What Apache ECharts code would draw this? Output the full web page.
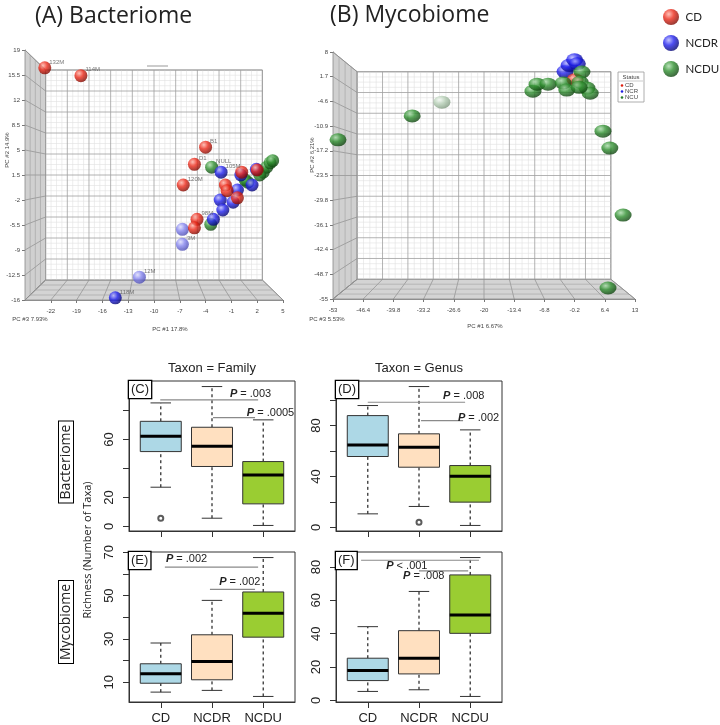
<!DOCTYPE html>
<html><head><meta charset="utf-8">
<script src="https://cdn.jsdelivr.net/npm/echarts@6/dist/echarts.min.js"></script>
<style>html,body{margin:0;padding:0;background:#fff}#c{width:720px;height:725px}</style>
</head><body><div id="c"></div>
<script>
// ================= DATA =================
const statusNames = ['CD', 'NCDR', 'NCDU'];
// Panel A: Bacteriome PCA  [PC1, PC2, label]
const bactCD = [[-22.7,16.5,'132M'],[-18.5,15.4,'114M'],[-4.0,5.4,'B1'],[-5.3,3.0,'D1'],[-6.6,0.1,'120M'],
  [-1.7,0.1,''],[-1.5,-0.7,''],[-0.3,-1.7,''],[-5.0,-4.7,'98M'],[-5.3,-5.9,''],[2.0,2.2,''],[0.2,1.9,'']];
const bactNCDR = [[-2.2,1.9,'105M'],[0.1,1.5,''],[1.9,2.3,''],[1.4,0.1,''],[-0.3,-0.6,''],[-2.3,-2.0,''],
  [-0.8,-2.3,''],[-2.0,-3.4,''],[-3.1,-4.7,''],[-14.5,-15.7,'118M']];
const bactNCDRFar = [[-6.7,-6.1,''],[-6.7,-8.2,'3M'],[-11.7,-12.8,'12M']];
const bactNCDU = [[-3.3,2.6,'NULL'],[0.9,0.5,''],[2.7,1.9,''],[3.1,2.6,''],[3.5,3.2,''],[3.8,3.5,''],
  [-3.4,-5.4,''],[0.6,0.8,''],[2.3,1.5,'']];
const bactXTicks = [-22,-19,-16,-13,-10,-7,-4,-1,2,5];
const bactXGrid = [-25,-22,-19,-16,-13,-10,-7,-4,-1,2,5];
const bactYTicks = [-16,-12.5,-9,-5.5,-2,1.5,5,8.5,12,15.5,19];

// Panel B: Mycobiome PCA [PC1, PC2]
const mycoCD = [[-0.1,0.9]];
const mycoNCDR = [[-2.3,3.0],[-1.4,4.6],[-0.2,6.0],[0.4,5.0]];
const mycoNCDU = [[-51.9,-14.4],[-35.7,-8.3],[-9.3,-2.0],[-8.4,-0.2],[-6.0,-0.2],[-2.7,0.1],[-1.9,-1.7],
  [1.4,2.9],[1.0,0.3],[2.5,-1.2],[3.2,-2.5],[0.8,-1.0],[6.0,-12.2],[7.5,-16.5],[10.4,-33.6],[7.1,-52.2]];
const mycoNCDUFar = [[-29.2,-4.8]];
const mycoXTicks = [-53,-46.4,-39.8,-33.2,-26.6,-20,-13.4,-6.8,-0.2,6.4,13];
const mycoYTicks = [-55,-48.7,-42.4,-36.1,-29.8,-23.5,-17.2,-10.9,-4.6,1.7,8];

// Boxplots: [lower whisker, Q1, median, Q3, upper whisker] per group
const groups = ['CD', 'NCDR', 'NCDU'];
const famBact = [[27.1,51.7,62.3,72.6,85.3],[5.7,41.4,55.4,68.5,96.6],[0.7,15.6,35.6,44.8,73.6]];
const famBactOut = [[1,5.7]];
const genBact = [[10.7,55.7,64.8,87.8,95.7],[16.5,47.3,63.0,73.5,110.6],[1.6,19.9,40.3,48.6,76.6]];
const genBactOut = [[2,4.2]];
const famMyco = [[5.4,9.5,13.9,18.5,28.1],[6.2,11.1,19.6,31.9,47.8],[3.4,30.8,41.9,51.7,67.6]];
const famMycoOut = [];
const genMyco = [[5.4,11.9,17.9,25.3,44.2],[6.4,15.9,25.3,41.8,65.3],[2.4,40.2,51.2,75.2,85.6]];
const genMycoOut = [];
// P-value brackets: [fromX, toX, lineY, textX, textY]  and texts
const famBactP = [[0.99,2.90,87.4,2.35,91.7],[2.02,2.84,75.2,2.68,78.6]];
const famBactPTxt = ['= .003','= .0005'];
const genBactP = [[1.0,2.90,98.3,2.47,103.5],[2.04,2.86,83.9,2.76,86.3]];
const genBactPTxt = ['= .008','= .002'];
const famMycoP = [[1.08,2.90,63.2,1.10,66.8],[1.96,2.84,52.9,2.14,56.3]];
const famMycoPTxt = ['= .002','= .002'];
const genMycoP = [[0.87,3.17,84.0,1.36,80.6],[2.0,2.96,77.6,1.69,74.6]];
const genMycoPTxt = ['< .001','= .008'];
const famBactYTicks = [0,20,40,60,80], famBactYLabels = [0,20,60];
const genBactYTicks = [0,20,40,60,80,100], genBactYLabels = [0,40,80];
const famMycoYTicks = [10,20,30,40,50,60,70], famMycoYLabels = [10,30,50,70];
const genMycoYTicks = [0,20,40,60,80], genMycoYLabels = [0,20,40,60,80];

// ================= STYLE HELPERS =================
function grad(a,b,c){return {type:'radial',x:0.36,y:0.32,r:0.72,colorStops:[{offset:0,color:a},{offset:0.45,color:b},{offset:1,color:c}]};}
const cRed = grad('#ffb2a6','#ec2a1a','#7a0700');
const cBlue = grad('#b4b4ff','#2222ee','#00006a');
const cGreen = grad('#a9dba9','#2f8f2f','#0c3f0c');
const cBlueFar = grad('#e0e0ff','#8484ee','#4a4ab0');
const cGreenFar = grad('#f2f8f2','#b5ceb5','#7c967c');
const boxColors = ['#ADD8E6','#FFE0C0','#9ACD32'];
const AF = 'Liberation Sans';

function makeWall(xGrid, yGrid, k){
  return function(params, api){
    const xmin=xGrid[0], xmax=xGrid[xGrid.length-1], ymin=yGrid[0], ymax=yGrid[yGrid.length-1];
    const tl=api.coord([xmin,ymax]), br=api.coord([xmax,ymin]);
    const cx=(tl[0]+br[0])/2, cy=(tl[1]+br[1])/2;
    const B=p=>[cx+(p[0]-cx)*k, cy+(p[1]-cy)*k];
    const L=tl[0], R=br[0], T=tl[1], Bo=br[1];
    const btl=B([L,T]), bbr=B([R,Bo]);
    const ch=[];
    const line=(x1,y1,x2,y2,stroke,w)=>ch.push({type:'line',shape:{x1,y1,x2,y2},style:{stroke,lineWidth:w}});
    ch.push({type:'polygon',shape:{points:[[L,T],btl,[btl[0],bbr[1]],[L,Bo]]},style:{fill:'#d0d0d0',stroke:'#888',lineWidth:0.8}});
    ch.push({type:'polygon',shape:{points:[[L,Bo],[R,Bo],bbr,[btl[0],bbr[1]]]},style:{fill:'#d4d4d4',stroke:'#888',lineWidth:0.8}});
    ch.push({type:'rect',shape:{x:btl[0],y:btl[1],width:bbr[0]-btl[0],height:bbr[1]-btl[1]},style:{fill:'#fff',stroke:'#888',lineWidth:0.8}});
    const bx=v=>B(api.coord([v,ymin]))[0];
    const by=v=>B(api.coord([xmin,v]))[1];
    const sub=4;
    for(let i=0;i<xGrid.length-1;i++) for(let j=1;j<sub;j++){
      const px=bx(xGrid[i]+(xGrid[i+1]-xGrid[i])*j/sub); line(px,btl[1],px,bbr[1],'#e0e0e0',0.6);}
    for(let i=0;i<yGrid.length-1;i++) for(let j=1;j<sub;j++){
      const py=by(yGrid[i]+(yGrid[i+1]-yGrid[i])*j/sub); line(btl[0],py,bbr[0],py,'#e0e0e0',0.6);}
    xGrid.forEach(v=>{const px=bx(v); line(px,btl[1],px,bbr[1],'#a0a0a0',0.8);});
    yGrid.forEach(v=>{const py=by(v); line(btl[0],py,bbr[0],py,'#a0a0a0',0.8);});
    xGrid.forEach(v=>{const f=api.coord([v,ymin]); line(f[0],f[1],bx(v),bbr[1],'#8c8c8c',0.7);});
    for(let j=1;j<4;j++){const t=j/4; line(L+(btl[0]-L)*t,Bo+(bbr[1]-Bo)*t,R+(bbr[0]-R)*t,Bo+(bbr[1]-Bo)*t,'#a0a0a0',0.6);}
    yGrid.forEach(v=>{const f=api.coord([xmin,v]); line(f[0],f[1],btl[0],by(v),'#8c8c8c',0.7);});
    for(let j=1;j<4;j++){const t=j/4; const xx=L+(btl[0]-L)*t; line(xx,T+(btl[1]-T)*t,xx,Bo+(bbr[1]-Bo)*t,'#a0a0a0',0.6);}
    return {type:'group',children:ch};
  };
}

function boxRender(params, api){
  const x=api.value(0), lo=api.value(1), q1=api.value(2), med=api.value(3), q3=api.value(4), hi=api.value(5);
  const c=(a,b)=>api.coord([a,b]);
  const pLo=c(x,lo), pQ1=c(x,q1), pMed=c(x,med), pQ3=c(x,q3), pHi=c(x,hi);
  const left=c(x-0.4,q3)[0], right=c(x+0.4,q3)[0];
  const cl=c(x-0.2,hi)[0], cr=c(x+0.2,hi)[0];
  const dash={stroke:'#333',lineWidth:1.3,lineDash:[3,3]};
  return {type:'group',children:[
    {type:'line',shape:{x1:pQ3[0],y1:pQ3[1],x2:pHi[0],y2:pHi[1]},style:dash},
    {type:'line',shape:{x1:pLo[0],y1:pLo[1],x2:pQ1[0],y2:pQ1[1]},style:dash},
    {type:'line',shape:{x1:cl,y1:pHi[1],x2:cr,y2:pHi[1]},style:{stroke:'#333',lineWidth:1}},
    {type:'line',shape:{x1:cl,y1:pLo[1],x2:cr,y2:pLo[1]},style:{stroke:'#333',lineWidth:1}},
    {type:'rect',shape:{x:left,y:pQ3[1],width:right-left,height:pQ1[1]-pQ3[1]},style:{fill:boxColors[params.dataIndex],stroke:'#333',lineWidth:1}},
    {type:'line',shape:{x1:left,y1:pMed[1],x2:right,y2:pMed[1]},style:{stroke:'#000',lineWidth:3}}
  ]};
}
function makePRender(texts){
  return function(params, api){
    const a=api.coord([api.value(0),api.value(2)]), b=api.coord([api.value(1),api.value(2)]);
    const t=api.coord([api.value(3),api.value(4)]);
    return {type:'group',children:[
      {type:'line',shape:{x1:a[0],y1:a[1],x2:b[0],y2:b[1]},style:{stroke:'#8a8a8a',lineWidth:1.2}},
      {type:'text',x:t[0],y:t[1],style:{text:'{i|P} '+texts[params.dataIndex],
        rich:{i:{fontStyle:'italic',fontWeight:'bold',fontSize:11,fontFamily:AF,fill:'#222'}},
        fontSize:11,fontFamily:AF,fill:'#222',align:'left',verticalAlign:'middle'}}
    ]};
  };
}
function rangeOf(stats, outs){
  let mn=Infinity,mx=-Infinity;
  stats.forEach(s=>{mn=Math.min(mn,s[0]);mx=Math.max(mx,s[4]);});
  outs.forEach(o=>{mn=Math.min(mn,o[1]);mx=Math.max(mx,o[1]);});
  const e=(mx-mn)*0.04; return [mn-e,mx+e];
}

// ================= OPTION =================
const tickStyle={color:'#444',fontSize:6,fontFamily:AF};
function pcaX(gi,min,max,ticks){return {gridIndex:gi,type:'value',min,max,
  axisLine:{show:true,onZero:false,lineStyle:{color:'#777',width:0.8}},
  axisTick:{show:true,customValues:ticks,length:3,lineStyle:{color:'#777'}},
  axisLabel:Object.assign({customValues:ticks,margin:8},tickStyle),splitLine:{show:false}};}
function pcaY(gi,min,max,ticks){return {gridIndex:gi,type:'value',min,max,
  axisLine:{show:true,onZero:false,lineStyle:{color:'#777',width:0.8}},
  axisTick:{show:true,customValues:ticks,length:3,lineStyle:{color:'#777'}},
  axisLabel:Object.assign({customValues:ticks,margin:5},tickStyle),splitLine:{show:false}};}
function boxX(gi,showLab){return {gridIndex:gi,type:'value',min:0.38,max:3.62,
  axisLine:{show:true,onZero:false,lineStyle:{color:'#333'}},
  axisTick:{show:true,customValues:[1,2,3],length:6,lineStyle:{color:'#333'}},
  axisLabel:{show:showLab,customValues:[1,2,3],formatter:v=>groups[Math.round(v)-1],fontSize:13,fontFamily:AF,color:'#222',margin:10},
  splitLine:{show:false}};}
function boxY(gi,range,ticks,labels){return {gridIndex:gi,type:'value',min:range[0],max:range[1],
  axisLine:{show:true,onZero:false,lineStyle:{color:'#333'}},
  axisTick:{show:true,customValues:ticks,length:6,lineStyle:{color:'#333'}},
  axisLabel:{customValues:labels,rotate:90,fontSize:13,fontFamily:AF,color:'#222',margin:13},
  splitLine:{show:false}};}

const scat=(name,data,color,xi,size)=>({type:'scatter',name,xAxisIndex:xi,yAxisIndex:xi,data,symbolSize:size,clip:false,
  itemStyle:{color},label:{show:true,formatter:p=>p.data[2]||'',position:'right',distance:0,offset:[-2,-6],fontSize:6,color:'#555',fontFamily:AF},z:3});
const boxSeries=(gi,stats)=>({type:'custom',xAxisIndex:gi,yAxisIndex:gi,renderItem:boxRender,clip:false,
  data:stats.map((s,i)=>[i+1].concat(s)),z:3});
const outSeries=(gi,outs)=>({type:'scatter',xAxisIndex:gi,yAxisIndex:gi,data:outs,symbol:'emptyCircle',symbolSize:5,
  itemStyle:{color:'#333',borderWidth:1},z:4});
const pSeries=(gi,arr,txt)=>({type:'custom',xAxisIndex:gi,yAxisIndex:gi,renderItem:makePRender(txt),clip:false,data:arr,z:4});

const gridBox={show:true,borderColor:'#333',borderWidth:1,backgroundColor:'#fff',outerBoundsMode:'none'};
const rC=rangeOf(famBact,famBactOut), rD=rangeOf(genBact,genBactOut), rE=rangeOf(famMyco,famMycoOut), rF=rangeOf(genMyco,genMycoOut);

const option={
  animation:false,
  backgroundColor:'#fff',
  legend:{orient:'vertical',left:658,top:4,itemWidth:19,itemHeight:16,itemGap:10,icon:'circle',selectedMode:false,
    textStyle:{fontSize:11.5,fontFamily:'Lato',color:'#222'},
    data:[{name:'CD',itemStyle:{color:cRed}},{name:'NCDR',itemStyle:{color:cBlue}},{name:'NCDU',itemStyle:{color:cGreen}}]},
  grid:[
    {left:25,top:50,width:258,height:250,outerBoundsMode:'none'},
    {left:333,top:52,width:302,height:247,outerBoundsMode:'none'},
    Object.assign({left:129,top:381,width:166,height:150},gridBox),
    Object.assign({left:336,top:381,width:166,height:150},gridBox),
    Object.assign({left:129,top:552,width:166,height:150},gridBox),
    Object.assign({left:336,top:552,width:166,height:150},gridBox)
  ],
  xAxis:[pcaX(0,-25,5,bactXTicks),pcaX(1,-53,13,mycoXTicks),boxX(2,false),boxX(3,false),boxX(4,true),boxX(5,true)],
  yAxis:[pcaY(0,-16,19,bactYTicks),pcaY(1,-55,8,mycoYTicks),
    boxY(2,rC,famBactYTicks,famBactYLabels),boxY(3,rD,genBactYTicks,genBactYLabels),
    boxY(4,rE,famMycoYTicks,famMycoYLabels),boxY(5,rF,genMycoYTicks,genMycoYLabels)],
  series:[
    {type:'custom',xAxisIndex:0,yAxisIndex:0,renderItem:makeWall(bactXGrid,bactYTicks,0.84),data:[[0,0]],z:1,silent:true},
    scat('NCDR',bactNCDRFar,cBlueFar,0,13),
    scat('NCDU',bactNCDU,cGreen,0,13),
    scat('NCDR',bactNCDR,cBlue,0,13),
    scat('CD',bactCD,cRed,0,13),
    {type:'custom',xAxisIndex:1,yAxisIndex:1,renderItem:makeWall(mycoXTicks,mycoYTicks,0.84),data:[[0,0]],z:1,silent:true},
    scat('NCDU',mycoNCDUFar,cGreenFar,1,[17,13]),
    scat('NCDR',mycoNCDR,cBlue,1,[17,13]),
    scat('CD',mycoCD,cRed,1,[17,13]),
    scat('NCDU',mycoNCDU,cGreen,1,[17,13]),
    boxSeries(2,famBact),outSeries(2,famBactOut),pSeries(2,famBactP,famBactPTxt),
    boxSeries(3,genBact),outSeries(3,genBactOut),pSeries(3,genBactP,genBactPTxt),
    boxSeries(4,famMyco),outSeries(4,famMycoOut),pSeries(4,famMycoP,famMycoPTxt),
    boxSeries(5,genMyco),outSeries(5,genMycoOut),pSeries(5,genMycoP,genMycoPTxt)
  ],
  graphic:[
    {type:'text',left:35,top:5,z:100,style:{text:'(A) Bacteriome',fontSize:23,fontFamily:'Open Sans',fill:'#222'}},
    {type:'text',left:330,top:4,z:100,style:{text:'(B) Mycobiome',fontSize:23,fontFamily:'Open Sans',fill:'#222'}},
    {type:'line',z:100,shape:{x1:147,y1:66,x2:168,y2:66},style:{stroke:'#999',lineWidth:1}},
    {type:'text',x:170,y:329,z:100,style:{text:'PC #1 17.8%',fontSize:6,fontFamily:AF,fill:'#444',align:'center',verticalAlign:'middle'}},
    {type:'text',x:7,y:150,rotation:Math.PI/2,z:100,style:{text:'PC #2 14.9%',fontSize:6,fontFamily:AF,fill:'#444',align:'center',verticalAlign:'middle'}},
    {type:'text',x:30,y:319,z:100,style:{text:'PC #3 7.93%',fontSize:6,fontFamily:AF,fill:'#444',align:'center',verticalAlign:'middle'}},
    {type:'text',x:485,y:326,z:100,style:{text:'PC #1 6.67%',fontSize:6,fontFamily:AF,fill:'#444',align:'center',verticalAlign:'middle'}},
    {type:'text',x:312,y:155,rotation:Math.PI/2,z:100,style:{text:'PC #2 6.21%',fontSize:6,fontFamily:AF,fill:'#444',align:'center',verticalAlign:'middle'}},
    {type:'text',x:327,y:319,z:100,style:{text:'PC #3 5.53%',fontSize:6,fontFamily:AF,fill:'#444',align:'center',verticalAlign:'middle'}},
    {type:'group',x:618,y:72,z:100,children:[
      {type:'rect',shape:{x:0,y:0,width:26,height:30},style:{fill:'#fff',stroke:'#999',lineWidth:0.8}},
      {type:'text',x:13,y:5,style:{text:'Status',fontSize:6,fontFamily:AF,fill:'#444',align:'center',verticalAlign:'middle'}},
      {type:'line',shape:{x1:1,y1:9,x2:25,y2:9},style:{stroke:'#aaa',lineWidth:0.6}},
      {type:'circle',shape:{cx:4,cy:13.5,r:1.3},style:{fill:'#e02010'}},
      {type:'text',x:7,y:13.5,style:{text:'CD',fontSize:6,fontFamily:AF,fill:'#444',verticalAlign:'middle'}},
      {type:'circle',shape:{cx:4,cy:19.5,r:1.3},style:{fill:'#2020e0'}},
      {type:'text',x:7,y:19.5,style:{text:'NCR',fontSize:6,fontFamily:AF,fill:'#444',verticalAlign:'middle'}},
      {type:'circle',shape:{cx:4,cy:25.5,r:1.3},style:{fill:'#2a7a2a'}},
      {type:'text',x:7,y:25.5,style:{text:'NCU',fontSize:6,fontFamily:AF,fill:'#444',verticalAlign:'middle'}}
    ]},
    {type:'text',x:212,y:368,z:100,style:{text:'Taxon = Family',fontSize:13,fontFamily:AF,fill:'#222',align:'center',verticalAlign:'middle'}},
    {type:'text',x:419,y:368,z:100,style:{text:'Taxon = Genus',fontSize:13,fontFamily:AF,fill:'#222',align:'center',verticalAlign:'middle'}},
    {type:'text',x:66,y:462,rotation:Math.PI/2,z:100,style:{text:'Bacteriome',fontSize:14,fontFamily:'Open Sans',fill:'#222',align:'center',verticalAlign:'middle',borderColor:'#000',borderWidth:1,padding:[0,3,0,3],backgroundColor:'#fff'}},
    {type:'text',x:66,y:622,rotation:Math.PI/2,z:100,style:{text:'Mycobiome',fontSize:14,fontFamily:'Open Sans',fill:'#222',align:'center',verticalAlign:'middle',borderColor:'#000',borderWidth:1,padding:[0,3,0,3],backgroundColor:'#fff'}},
    {type:'text',x:88,y:550,rotation:Math.PI/2,z:100,style:{text:'Richness (Number of Taxa)',fontSize:11,fontFamily:'Open Sans',fill:'#222',align:'center',verticalAlign:'middle'}},
    {type:'text',x:129,y:381,z:100,style:{text:'(C)',fontSize:13,fontFamily:AF,fill:'#222',borderColor:'#000',borderWidth:1.3,padding:[2,2,2,2],backgroundColor:'#fff'}},
    {type:'text',x:336,y:381,z:100,style:{text:'(D)',fontSize:13,fontFamily:AF,fill:'#222',borderColor:'#000',borderWidth:1.3,padding:[2,2,2,2],backgroundColor:'#fff'}},
    {type:'text',x:129,y:552,z:100,style:{text:'(E)',fontSize:13,fontFamily:AF,fill:'#222',borderColor:'#000',borderWidth:1.3,padding:[2,2,2,2],backgroundColor:'#fff'}},
    {type:'text',x:336,y:552,z:100,style:{text:'(F)',fontSize:13,fontFamily:AF,fill:'#222',borderColor:'#000',borderWidth:1.3,padding:[2,2,2,2],backgroundColor:'#fff'}}
  ]
};
const chart=echarts.init(document.getElementById('c'),null,{renderer:'canvas'});
chart.setOption(option);
</script>
</body></html>
